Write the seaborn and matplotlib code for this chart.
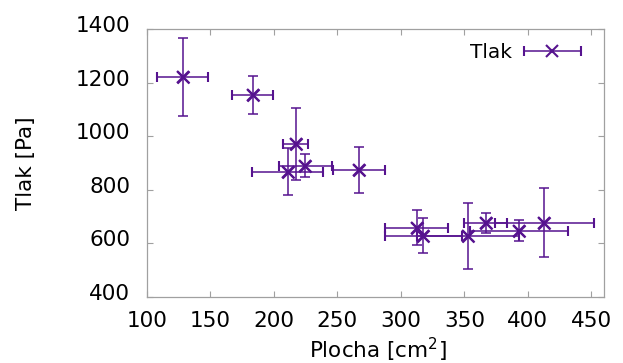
import numpy as np
import pandas as pd
import matplotlib
matplotlib.use("Agg")
import matplotlib.pyplot as plt
import matplotlib.transforms as mtransforms
import seaborn as sns
from matplotlib.container import ErrorbarContainer
from matplotlib.legend_handler import HandlerErrorbar

# data
plocha = [128.1, 183.2, 217.1, 210.8, 224.6, 266.9, 312.4, 317.6, 353.0, 366.7, 393.1, 412.8]
tlak = [1220, 1155, 971, 868, 889, 873, 659, 628, 626, 677, 647, 677]
plocha_err = [20.3, 16.0, 10.0, 28.0, 21.0, 20.5, 25.0, 30.5, 40.0, 17.0, 38.7, 39.0]
tlak_err = [145, 71, 133, 89, 43, 85, 66, 65, 123, 38, 39, 129]
x_ticks = [100, 150, 200, 250, 300, 350, 400, 450]
y_ticks = [400, 600, 800, 1000, 1200, 1400]

df = pd.DataFrame({"Plocha": plocha, "Tlak": tlak, "dx": plocha_err, "dy": tlak_err})

sns.set_theme(style="ticks")
plt.rcParams["font.family"] = ["DejaVu Sans"]
plt.rcParams["text.color"] = "black"

color = "#56138f"
grey = "#a0a0a0"
fs = 15.5

fig = plt.figure(figsize=(6.23, 3.63), dpi=100)
ax = fig.add_axes([147 / 623, 66 / 363, 457 / 623, 268 / 363])

# vertical error bars (no label)
ax.errorbar(df["Plocha"], df["Tlak"], yerr=df["dy"], fmt="none", ecolor=color,
            elinewidth=1.1, capsize=3.5, capthick=1.1, zorder=2)
# horizontal error bars with markers (legend entry)
ax.errorbar(df["Plocha"], df["Tlak"], xerr=df["dx"], fmt="x", color=color, ecolor=color,
            ms=8.5, mew=1.5, elinewidth=1.1, capsize=3.5, capthick=1.1, zorder=2,
            label="Tlak")
sns.scatterplot(data=df, x="Plocha", y="Tlak", marker="x", s=75, color=color,
                linewidth=1.6, ax=ax, zorder=3, legend=False)

ax.set_xlim(100, 460)
ax.set_ylim(400, 1400)
ax.set_xticks(x_ticks)
ax.set_yticks(y_ticks)
ax.set_xticklabels([str(v) for v in x_ticks])
ax.set_yticklabels([str(v) for v in y_ticks])

for sp in ax.spines.values():
    sp.set_visible(True)
    sp.set_color(grey)
    sp.set_linewidth(0.9)

ax.tick_params(axis="both", which="major", direction="in", length=4, width=0.8,
               color=grey, top=True, right=True, labelsize=fs, labelcolor="black")
ax.tick_params(axis="x", pad=10)
ax.tick_params(axis="y", pad=12)

# shift y tick labels upwards a little (as in reference)
offset = mtransforms.ScaledTranslation(0, 5 / 100, fig.dpi_scale_trans)
for lbl in ax.get_yticklabels():
    lbl.set_transform(lbl.get_transform() + offset)

ax.set_xlabel("Plocha [cm$^2$]", fontsize=fs, color="black")
ax.set_ylabel("Tlak [Pa]", fontsize=fs, color="black")
ax.xaxis.set_label_coords(0.505, -0.145)
ax.yaxis.set_label_coords(-0.243, 0.5)

# legend: horizontal bar container with marker
handles, labels = ax.get_legend_handles_labels()
leg = ax.legend(handles, labels, loc="upper right", bbox_to_anchor=(0.973, 0.985),
                frameon=False, markerfirst=False, fontsize=fs - 1, borderpad=0,
                handlelength=2.9, handletextpad=0.55, numpoints=1, labelcolor="black",
                handler_map={ErrorbarContainer: HandlerErrorbar(xerr_size=1.4)})

fig.savefig("out.png", dpi=100)
